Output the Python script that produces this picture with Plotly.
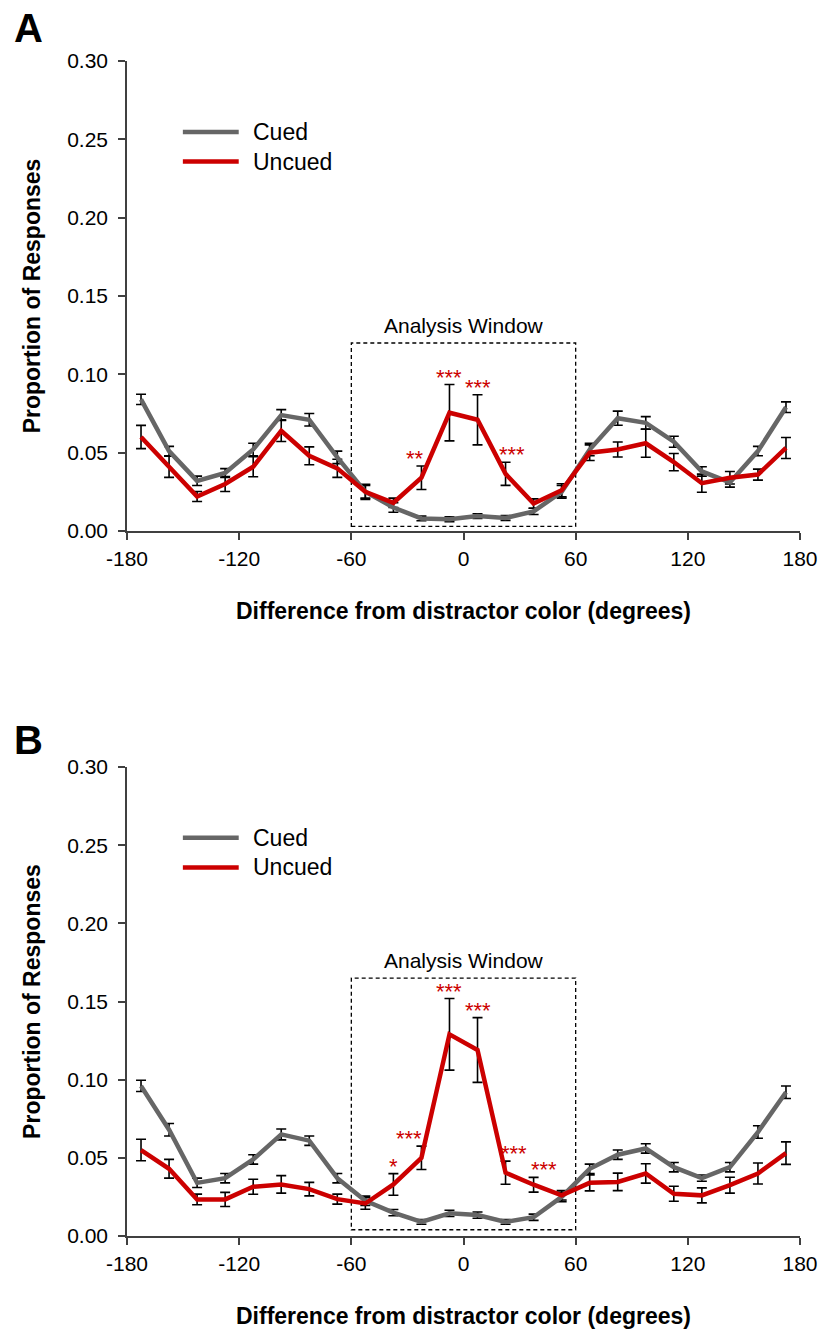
import plotly.graph_objects as go

# ---------------- data ----------------
bins = [-172.5, -157.5, -142.5, -127.5, -112.5, -97.5, -82.5, -67.5, -52.5, -37.5, -22.5, -7.5,
        7.5, 22.5, 37.5, 52.5, 67.5, 82.5, 97.5, 112.5, 127.5, 142.5, 157.5, 172.5]

cued_A = [0.084, 0.051, 0.032, 0.037, 0.052, 0.074, 0.071, 0.047, 0.025, 0.015, 0.008, 0.0075,
          0.0095, 0.0083, 0.0125, 0.025, 0.052, 0.072, 0.069, 0.057, 0.038, 0.031, 0.051, 0.079]
cued_A_err = [0.0033, 0.003, 0.003, 0.0028, 0.004, 0.0035, 0.004, 0.004, 0.004, 0.003, 0.0015, 0.0015,
              0.0015, 0.0015, 0.002, 0.004, 0.004, 0.0045, 0.004, 0.0035, 0.003, 0.003, 0.003, 0.0034]
uncued_A = [0.060, 0.041, 0.022, 0.030, 0.041, 0.064, 0.048, 0.040, 0.025, 0.018, 0.034, 0.0755,
            0.071, 0.0365, 0.0175, 0.026, 0.050, 0.052, 0.056, 0.044, 0.0305, 0.034, 0.036, 0.053]
uncued_A_err = [0.0074, 0.0068, 0.0032, 0.0048, 0.0064, 0.0069, 0.0057, 0.0058, 0.0048, 0.003, 0.0075, 0.018,
                0.016, 0.0074, 0.003, 0.0042, 0.005, 0.0048, 0.0089, 0.0055, 0.0058, 0.004, 0.0035, 0.0067]

cued_B = [0.096, 0.068, 0.034, 0.037, 0.049, 0.065, 0.061, 0.037, 0.0225, 0.015, 0.009, 0.0145,
          0.0134, 0.009, 0.012, 0.025, 0.043, 0.052, 0.056, 0.044, 0.037, 0.044, 0.0665, 0.092]
cued_B_err = [0.0036, 0.004, 0.003, 0.003, 0.003, 0.0035, 0.003, 0.003, 0.003, 0.002, 0.0015, 0.002,
              0.002, 0.0015, 0.002, 0.003, 0.003, 0.003, 0.003, 0.003, 0.002, 0.003, 0.004, 0.004]
uncued_B = [0.055, 0.043, 0.0234, 0.0234, 0.0315, 0.033, 0.030, 0.0236, 0.0208, 0.033, 0.050, 0.129,
            0.119, 0.0405, 0.0328, 0.026, 0.034, 0.0346, 0.040, 0.027, 0.026, 0.0325, 0.040, 0.053]
uncued_B_err = [0.0069, 0.006, 0.0034, 0.0045, 0.0048, 0.0056, 0.0043, 0.0032, 0.0037, 0.0069, 0.0075, 0.0229,
                0.0207, 0.0074, 0.0047, 0.003, 0.0051, 0.0056, 0.0062, 0.0048, 0.0048, 0.0051, 0.0067, 0.0072]

# significance markers: bin, label
stars_A = [(-22.5, "**"), (-7.5, "***"), (7.5, "***"), (22.5, "***")]
stars_B = [(-37.5, "*"), (-22.5, "***"), (-7.5, "***"), (7.5, "***"), (22.5, "***"), (37.5, "***")]
star_shift_A = [-6, 0, 0, 6]
star_shift_B = [0, -12, 0, 0, 8, 10]

window_x = [-60, 60]
window_y_A = [0.003, 0.12]
window_y_B = [0.004, 0.165]

x_ticks = [-180, -120, -60, 0, 60, 120, 180]
x_tick_text = ["-180", "-120", "-60", "0", "60", "120", "180"]
series_names = ["Cued", "Uncued"]

# ---------------- style ----------------
FONT = "Liberation Sans, Arial, sans-serif"
GRAY = "#666666"
RED = "#CC0000"
AXC = "#404040"

fig = go.Figure()

panels = [
    ("x", "y", cued_A, cued_A_err, uncued_A, uncued_A_err),
    ("x2", "y2", cued_B, cued_B_err, uncued_B, uncued_B_err),
]

for xa, ya, c, ce, u, ue in panels:
    for vals, errs in ((c, ce), (u, ue)):
        fig.add_trace(go.Scatter(
            x=bins, y=vals, xaxis=xa, yaxis=ya, mode="markers",
            marker=dict(size=1, color="rgba(0,0,0,0)"),
            error_y=dict(type="data", array=errs, visible=True, color="black",
                         thickness=1.6, width=5),
            showlegend=False, hoverinfo="skip"))
    fig.add_trace(go.Scatter(x=bins, y=c, xaxis=xa, yaxis=ya, mode="lines",
                             line=dict(color=GRAY, width=4.5), name=series_names[0],
                             showlegend=False))
    fig.add_trace(go.Scatter(x=bins, y=u, xaxis=xa, yaxis=ya, mode="lines",
                             line=dict(color=RED, width=4.5), name=series_names[1],
                             showlegend=False))

axis_common_x = dict(range=[-180, 180], tickmode="array", tickvals=x_ticks, ticktext=x_tick_text,
                     ticks="outside", ticklen=7, tickwidth=1.5, tickcolor=AXC,
                     showline=True, linecolor=AXC, linewidth=1.5, showgrid=False,
                     zeroline=False, tickfont=dict(family=FONT, size=21, color="black"),
                     ticklabelstandoff=1, automargin=False,
                     title=dict(text="<b>Difference from distractor color (degrees)</b>",
                                font=dict(family=FONT, size=23, color="black"), standoff=34))
axis_common_y = dict(range=[0, 0.30], dtick=0.05, tick0=0, tickformat=".2f",
                     ticks="outside", ticklen=7, tickwidth=1.5, tickcolor=AXC,
                     showline=True, linecolor=AXC, linewidth=1.5, showgrid=False,
                     zeroline=False, tickfont=dict(family=FONT, size=21, color="black"),
                     ticklabelstandoff=6, automargin=False,
                     title=dict(text="<b>Proportion of Responses</b>",
                                font=dict(family=FONT, size=23, color="black"), standoff=20))

fig.update_layout(
    width=822, height=1331,
    margin=dict(l=127, r=22, t=61, b=95, autoexpand=False),
    paper_bgcolor="white", plot_bgcolor="white",
    showlegend=False,
    xaxis=dict(domain=[0, 1], anchor="y", **axis_common_x),
    yaxis=dict(domain=[0.6, 1], anchor="x", **axis_common_y),
    xaxis2=dict(domain=[0, 1], anchor="y2", **axis_common_x),
    yaxis2=dict(domain=[0, 0.3991], anchor="x2", **axis_common_y),
)

shapes = []
annotations = []
for xa, ya, wy, stars, shifts, u, ue in (
        ("x", "y", window_y_A, stars_A, star_shift_A, uncued_A, uncued_A_err),
        ("x2", "y2", window_y_B, stars_B, star_shift_B, uncued_B, uncued_B_err)):
    shapes.append(dict(type="rect", xref=xa, yref=ya, x0=window_x[0], x1=window_x[1],
                       y0=wy[0], y1=wy[1], line=dict(color="black", width=1.3, dash="4px,3px"),
                       layer="below"))
    annotations.append(dict(xref=xa, yref=ya, x=0, y=wy[1], text="Analysis Window",
                            showarrow=False, yanchor="bottom", yshift=4,
                            font=dict(family=FONT, size=21, color="black")))
    for (bx, lab), sh in zip(stars, shifts):
        i = bins.index(bx)
        annotations.append(dict(xref=xa, yref=ya, x=bx, y=u[i] + ue[i], text=lab,
                                showarrow=False, yanchor="bottom", xshift=sh, yshift=-7,
                                font=dict(family=FONT, size=22, color=RED)))
    # legend drawn with lines + labels in axis-domain coordinates
    for k, (name, col) in enumerate(zip(series_names, [GRAY, RED])):
        yy = 0.849 - k * 0.063
        shapes.append(dict(type="line", xref=f"{xa} domain", yref=f"{ya} domain",
                           x0=0.083, x1=0.166, y0=yy, y1=yy,
                           line=dict(color=col, width=4.5)))
        annotations.append(dict(xref=f"{xa} domain", yref=f"{ya} domain", x=0.184, y=yy,
                                text=name, showarrow=False, xanchor="left", yanchor="middle",
                                font=dict(family=FONT, size=23, color="black")))

annotations.append(dict(xref="paper", yref="paper", x=-0.147, y=(1236 - 28) / 1175, text="<b>A</b>",
                        showarrow=False, xanchor="center", yanchor="middle",
                        font=dict(family=FONT, size=40, color="black")))
annotations.append(dict(xref="paper", yref="paper", x=-0.147, y=(1236 - 740) / 1175, text="<b>B</b>",
                        showarrow=False, xanchor="center", yanchor="middle",
                        font=dict(family=FONT, size=40, color="black")))

fig.update_layout(shapes=shapes, annotations=annotations)
fig.write_html("out.html")
